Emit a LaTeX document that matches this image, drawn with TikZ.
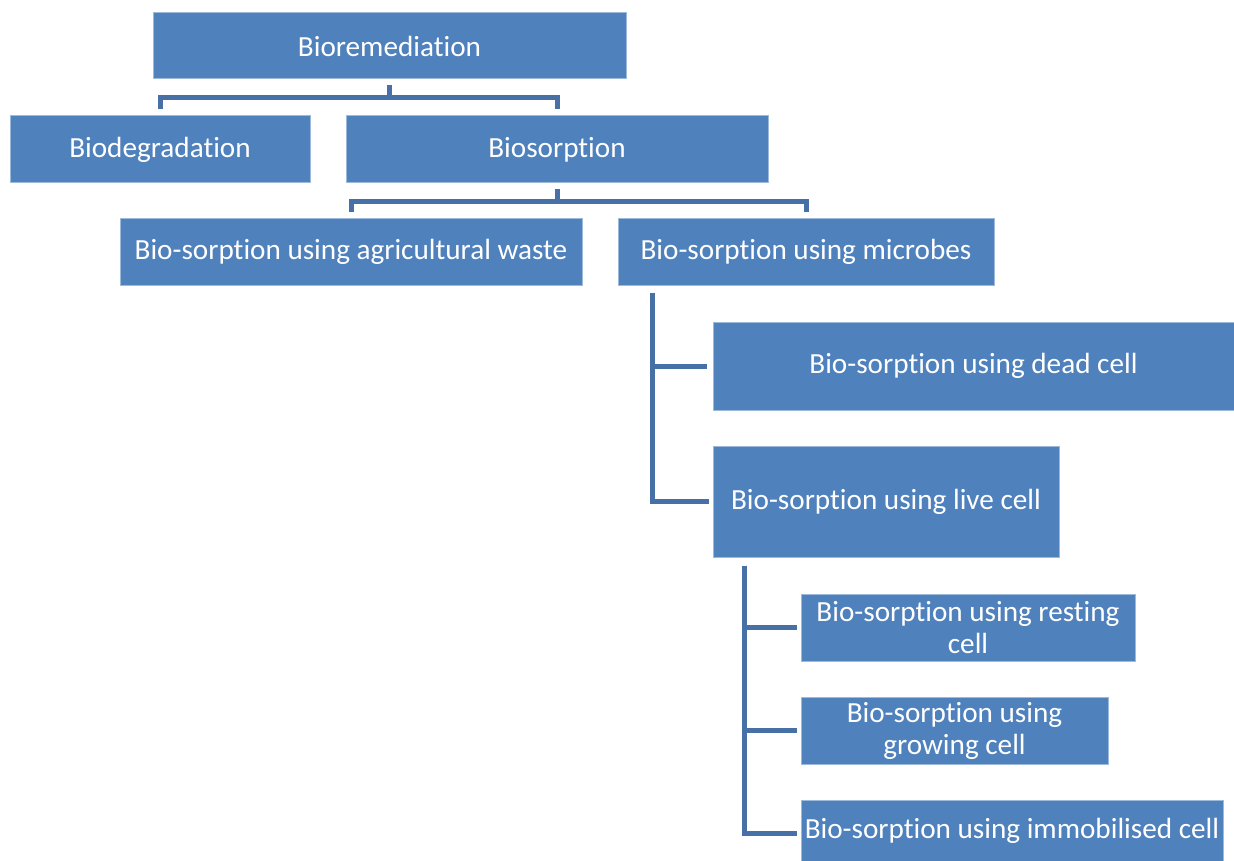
\documentclass[tikz,border=0pt]{standalone}
\usepackage{fontspec}
\setmainfont{Carlito}[Ligatures=NoCommon]
\usepackage{tikz}
\usetikzlibrary{positioning}
\definecolor{boxblue}{RGB}{79,129,189}
\definecolor{linkblue}{RGB}{70,112,166}

\begin{document}
\begin{tikzpicture}[x=1pt,y=-1pt,
    box/.style={fill=boxblue,draw=boxblue!55!white,line width=1pt,text=white,
        align=center,inner sep=0pt,font=\fontsize{29.2}{32}\selectfont},
    link/.style={linkblue,line width=5pt}]
    \useasboundingbox (0,0) rectangle (1234,861);
    %%%%% THE BOXES
    \node[box, minimum width=473, minimum height=66] (ROOT) at (389.5,46) {Bioremediation};
    \node[box, minimum width=300, minimum height=67] (DEG) at (160,149.5) {Biodegradation};
    \node[box, minimum width=422, minimum height=67] (SORP) at (557,149.5) {Biosorption};
    \node[box, minimum width=462, minimum height=66] (AGRI) at (351,252) {Bio-sorption using agricultural waste};
    \node[box, minimum width=376, minimum height=66] (MICR) at (806,252) {Bio-sorption using microbes};
    \node[box, minimum width=521, minimum height=88] (DEAD) at (973.5,366) {Bio-sorption using dead cell};
    \node[box, minimum width=346, minimum height=111] (LIVE) at (886,501.5) {Bio-sorption using live cell};
    \node[box, minimum width=334, minimum height=67] (REST) at (968,627.5) {Bio-sorption using resting\\cell};
    \node[box, minimum width=307, minimum height=67] (GROW) at (954.5,730.5) {Bio-sorption using\\growing cell};
    \node[box, minimum width=422, minimum height=61] (IMMO) at (1012,830.5) {Bio-sorption using immobilised cell};
    %%%%% THE LINKS
    \draw[link, shorten <=6pt, shorten >=6pt] (ROOT.south) -- ++(0,18.5) -| (DEG.north);
    \draw[link, shorten <=6pt, shorten >=6pt] (ROOT.south) -- ++(0,18.5) -| (SORP.north);
    \draw[link, shorten <=6pt, shorten >=6pt] (SORP.south) -- ++(0,18) -| (AGRI.north);
    \draw[link, shorten <=6pt, shorten >=6pt] (SORP.south) -- ++(0,18) -| (MICR.north);
    \draw[link] ([xshift=35pt,yshift=-7pt]MICR.south west) |- ([xshift=-6pt]DEAD.west);
    \draw[link] ([xshift=35pt,yshift=-7pt]MICR.south west) |- ([xshift=-4pt]LIVE.west);
    \draw[link] ([xshift=32pt,yshift=-8pt]LIVE.south west) |- ([xshift=-4pt]REST.west);
    \draw[link] ([xshift=32pt,yshift=-8pt]LIVE.south west) |- ([xshift=-4pt]GROW.west);
    \draw[link] ([xshift=32pt,yshift=-8pt]LIVE.south west) |- ([xshift=-4pt,yshift=-2.5pt]IMMO.west);
\end{tikzpicture}
\end{document}
